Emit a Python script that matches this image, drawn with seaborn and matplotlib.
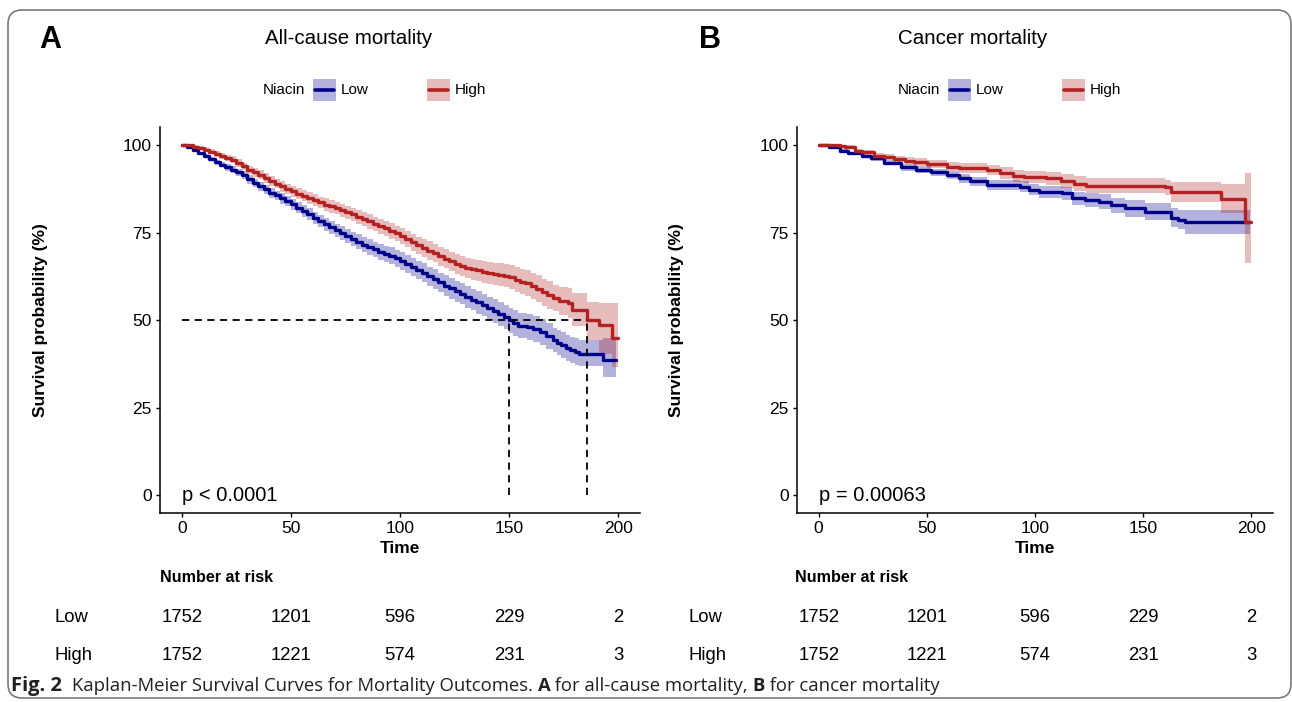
import pandas as pd
import matplotlib
matplotlib.use("Agg")
import matplotlib.pyplot as plt
import matplotlib.transforms as mtransforms
from matplotlib.patches import FancyBboxPatch, Rectangle
from matplotlib.lines import Line2D
import seaborn as sns

# ---- data (time, survival %, lower CI, upper CI) ----
a_high_t = [0, 2.5, 5, 7.5, 10, 12.5, 15, 17.5, 20, 22.5, 25, 27.5, 30, 32.5, 35, 37.5, 40, 42.5, 45, 47.5,
            50, 52.5, 55, 57.5, 60, 62.5, 65, 67.5, 70, 72.5, 75, 77.5, 80, 82.5, 85, 87.5, 90, 92.5, 95, 97.5,
            100, 102.5, 105, 107.5, 110, 112.5, 115, 117.5, 120, 122.5, 125, 127.5, 130, 132.5, 135, 137.5,
            140, 142.5, 145, 147.5, 150, 152.5, 155, 157.5, 160, 162.5, 165, 167.5, 170, 173, 177, 179,
            185.5, 191, 197, 200]
a_high_s = [100, 99.9, 99.5, 99.1, 98.7, 98.1, 97.5, 96.8, 96.3, 95.8, 94.9, 93.9, 92.8, 92.2, 91.5, 90.6,
            89.8, 89.0, 88.2, 87.5, 86.8, 86.1, 85.5, 84.8, 84.2, 83.6, 83.0, 82.5, 82.0, 81.4, 80.8, 80.2,
            79.6, 78.9, 78.2, 77.5, 76.8, 76.2, 75.5, 74.8, 74.0, 73.1, 72.3, 71.4, 70.6, 69.9, 69.1, 68.3,
            67.5, 66.8, 66.1, 65.5, 65.0, 64.6, 64.2, 63.8, 63.4, 63.2, 63.0, 62.7, 62.3, 61.6, 61.0, 60.5,
            59.8, 59.0, 58.0, 57.1, 56.3, 55.6, 54.8, 53.0, 50.0, 48.6, 44.8, 44.8]
a_high_lo = [100, 99.7, 99.1, 98.6, 98.1, 97.4, 96.7, 95.9, 95.4, 94.8, 93.8, 92.8, 91.6, 91.0, 90.2, 89.3,
             88.4, 87.6, 86.7, 86.0, 85.2, 84.5, 83.9, 83.1, 82.5, 81.9, 81.2, 80.7, 80.2, 79.5, 78.9, 78.3,
             77.6, 76.9, 76.1, 75.4, 74.7, 74.0, 73.3, 72.6, 71.7, 70.8, 69.9, 69.0, 68.1, 67.3, 66.5, 65.6,
             64.8, 64.0, 63.3, 62.6, 62.1, 61.6, 61.2, 60.7, 60.3, 60.0, 59.8, 59.4, 58.9, 58.1, 57.4, 56.8,
             56.0, 55.2, 54.1, 53.1, 52.5, 51.6, 50.5, 48.3, 44.5, 40.5, 36.7, 36.7]
a_high_hi = [100, 100, 99.9, 99.6, 99.3, 98.8, 98.3, 97.7, 97.2, 96.8, 96.0, 95.0, 94.0, 93.4, 92.8, 91.9,
             91.2, 90.4, 89.7, 89.0, 88.4, 87.7, 87.1, 86.5, 85.9, 85.3, 84.8, 84.3, 83.8, 83.3, 82.7, 82.1,
             81.6, 80.9, 80.3, 79.6, 78.9, 78.4, 77.7, 77.0, 76.3, 75.4, 74.7, 73.8, 73.1, 72.5, 71.7, 71.0,
             70.2, 69.6, 68.9, 68.4, 67.9, 67.6, 67.2, 66.9, 66.5, 66.4, 66.2, 66.0, 65.7, 65.1, 64.6, 64.2,
             63.6, 62.8, 61.9, 61.1, 60.2, 59.6, 59.1, 57.7, 55.2, 54.8, 54.8, 54.8]

a_low_t = [0, 2.5, 5, 7.5, 10, 12.5, 15, 17.5, 20, 22.5, 25, 27.5, 30, 32.5, 35, 37.5, 40, 42.5, 45, 47.5,
           50, 52.5, 55, 57.5, 60, 62.5, 65, 67.5, 70, 72.5, 75, 77.5, 80, 82.5, 85, 87.5, 90, 92.5, 95, 97.5,
           100, 102.5, 105, 107.5, 110, 112.5, 115, 117.5, 120, 122.5, 125, 127.5, 130, 132.5, 135, 137.5,
           140, 142.5, 145, 147.5, 150, 152, 154, 158, 161, 164, 167, 170, 172, 174, 176, 178, 180, 182,
           193, 199]
a_low_s = [100, 99.3, 98.6, 97.7, 96.9, 96.0, 95.1, 94.4, 93.6, 93.0, 92.3, 91.4, 90.2, 89.1, 88.2, 87.4,
           86.4, 85.6, 84.8, 84.0, 83.1, 82.1, 81.2, 80.2, 79.3, 78.3, 77.4, 76.5, 75.7, 74.9, 74.0, 73.2,
           72.4, 71.6, 70.9, 70.2, 69.6, 69.0, 68.4, 67.7, 66.9, 66.0, 65.2, 64.4, 63.5, 62.6, 61.7, 60.8,
           59.9, 59.1, 58.3, 57.5, 56.7, 55.9, 55.1, 54.3, 53.4, 52.6, 51.7, 50.9, 50.0, 49.2, 48.5, 48.0,
           47.5, 46.6, 45.5, 44.4, 43.6, 42.9, 42.1, 41.4, 40.8, 40.3, 38.8, 38.8]
a_low_lo = [100, 99.1, 98.3, 97.3, 96.4, 95.4, 94.4, 93.6, 92.7, 92.0, 91.3, 90.3, 89.0, 87.9, 86.9, 86.1,
            85.0, 84.2, 83.3, 82.5, 81.5, 80.5, 79.5, 78.5, 77.6, 76.5, 75.6, 74.7, 73.8, 73.0, 72.0, 71.2,
            70.3, 69.5, 68.7, 68.0, 67.3, 66.7, 66.0, 65.3, 64.4, 63.5, 62.6, 61.8, 60.8, 59.9, 58.9, 58.0,
            57.0, 56.1, 55.3, 54.5, 53.6, 52.8, 51.9, 51.1, 50.1, 49.2, 48.3, 47.5, 46.5, 45.6, 44.9, 44.3,
            43.7, 42.8, 41.7, 41.0, 40.1, 39.3, 38.5, 37.8, 37.3, 37.0, 33.8, 33.8]
a_low_hi = [100, 99.5, 98.9, 98.1, 97.4, 96.6, 95.8, 95.2, 94.5, 94.0, 93.3, 92.5, 91.4, 90.3, 89.5, 88.7,
            87.8, 87.0, 86.3, 85.5, 84.7, 83.7, 82.9, 81.9, 81.0, 80.1, 79.2, 78.3, 77.6, 76.8, 76.0, 75.2,
            74.5, 73.7, 73.1, 72.4, 71.9, 71.3, 70.8, 70.1, 69.4, 68.5, 67.8, 67.0, 66.2, 65.3, 64.5, 63.6,
            62.8, 62.1, 61.3, 60.5, 59.8, 59.0, 58.3, 57.5, 56.7, 56.0, 55.1, 54.3, 53.5, 52.8, 52.1, 51.7,
            51.3, 50.4, 49.3, 47.9, 47.1, 46.6, 45.8, 45.2, 44.8, 44.5, 44.8, 44.8]

b_high_t = [0, 5, 10, 12, 16.6, 20, 25.8, 30, 35, 40, 44, 50, 59.4, 65, 77.7, 84, 89.8, 95, 105, 112,
            118, 123.4, 160, 163, 186, 197, 200]
b_high_s = [100, 99.9, 99.7, 99.5, 98.4, 98.0, 97.0, 96.5, 96.0, 95.5, 95.1, 94.6, 93.8, 93.5, 92.9, 92.0,
            91.2, 90.9, 90.5, 89.8, 89.0, 88.4, 87.9, 86.5, 84.6, 78.1, 78.1]
b_high_lo = [100, 99.7, 99.4, 99.1, 97.9, 97.4, 96.3, 95.7, 95.1, 94.5, 94.0, 93.4, 92.5, 92.1, 91.4, 90.4,
             89.5, 89.1, 88.6, 87.8, 86.9, 86.2, 85.8, 83.8, 80.5, 66.2, 66.2]
b_high_hi = [100, 100, 100, 99.9, 98.9, 98.6, 97.7, 97.3, 96.9, 96.5, 96.2, 95.8, 95.1, 94.9, 94.4, 93.6,
             92.9, 92.7, 92.4, 91.8, 91.1, 90.6, 90.0, 89.5, 89.0, 92.1, 92.1]

b_low_t = [0, 5, 10, 13.6, 20, 24.3, 30, 38, 45, 52, 59.4, 65, 70, 77.7, 92.9, 97, 102, 112.7, 117.3, 123,
           129.5, 135, 141.7, 150.9, 163, 166, 169.2, 199.5]
b_low_s = [100, 99.3, 98.4, 97.6, 96.9, 96.2, 95.0, 93.6, 92.9, 92.2, 91.4, 90.5, 89.6, 88.6, 88.1, 87.3,
           86.7, 86.2, 84.8, 84.3, 83.8, 82.8, 81.9, 81.0, 79.3, 78.7, 78.1, 78.1]
b_low_lo = [100, 99.0, 98.0, 97.1, 96.3, 95.5, 94.2, 92.7, 91.9, 91.1, 90.2, 89.2, 88.2, 87.1, 86.5, 85.6,
            85.0, 84.4, 82.9, 82.3, 81.7, 80.6, 79.6, 78.6, 76.7, 76.0, 74.5, 74.5]
b_low_hi = [100, 99.6, 98.8, 98.1, 97.5, 96.9, 95.8, 94.5, 93.9, 93.3, 92.6, 91.8, 91.0, 90.1, 89.7, 89.0,
            88.4, 88.0, 86.7, 86.3, 85.9, 85.0, 84.2, 83.4, 81.9, 81.5, 81.6, 81.6]

a_medians = [150, 185.5]
b_medians = []

risk_times = [0, 50, 100, 150, 200]
a_risk_low = [1752, 1201, 596, 229, 2]
a_risk_high = [1752, 1221, 574, 231, 3]
b_risk_low = [1752, 1201, 596, 229, 2]
b_risk_high = [1752, 1221, 574, 231, 3]

groups = ["Low", "High"]
colors = {"Low": "#00008B", "High": "#B22222"}

sns.set_theme(style="ticks")
plt.rcParams["font.family"] = ["Liberation Sans", "DejaVu Sans"]
plt.rcParams["text.color"] = "black"
plt.rcParams["axes.labelcolor"] = "black"
plt.rcParams["xtick.color"] = "black"
plt.rcParams["ytick.color"] = "black"

W, H = 1292, 702
fig = plt.figure(figsize=(W / 100, H / 100), dpi=100)


def fx(x):
    return x / W


def fy(y):
    return 1 - y / H


def draw_panel(ax, curves, medians, pval, ylab_x):
    frames = []
    for name, (t, s, lo, hi) in curves.items():
        ax.fill_between(t, lo, hi, step="post", color=colors[name], alpha=0.3, lw=0)
        frames.append(pd.DataFrame({"time": t, "surv": s, "Niacin": name}))
    df = pd.concat(frames, ignore_index=True)
    sns.lineplot(data=df, x="time", y="surv", hue="Niacin", hue_order=groups, palette=colors,
                 estimator=None, sort=False, drawstyle="steps-post", lw=2.4, legend=False, ax=ax)
    if medians:
        ax.plot([0, max(medians)], [50, 50], color="black", lw=1.3, ls=(0, (4, 3)))
        for m in medians:
            ax.plot([m, m], [0, 50], color="black", lw=1.3, ls=(0, (4, 3)))
    ax.text(0, 0, pval, fontsize=14.5, ha="left", va="center")
    ax.set_xlim(-10, 210)
    ax.set_ylim(-5, 105)
    ax.set_xticks(risk_times)
    ax.set_yticks([0, 25, 50, 75, 100])
    ax.set_xlabel("Time", fontsize=12.5, fontweight="bold")
    ax.xaxis.set_label_coords(0.5, -0.072)
    ax.xaxis.label.set_va("top")
    ax.set_ylabel("Survival probability (%)", fontsize=12.5, fontweight="bold")
    ax.yaxis.set_label_coords(ylab_x, 0.5)
    ax.grid(False)
    sns.despine(ax=ax)
    for side in ["left", "bottom"]:
        ax.spines[side].set_color("black")
        ax.spines[side].set_linewidth(1.1)
    ax.tick_params(length=3, width=1, colors="black", labelsize=12.5, pad=3)


def draw_legend(dx):
    fig.text(fx(263 + dx), fy(90), "Niacin", fontsize=11, va="center", ha="left")
    for name, bx, tx in [("Low", 313, 341), ("High", 427, 455)]:
        fig.patches.append(Rectangle((fx(bx + dx), fy(101)), 23 / W, 22 / H, transform=fig.transFigure,
                                     facecolor=colors[name], alpha=0.3, lw=0))
        fig.lines.append(Line2D([fx(bx + dx + 2), fx(bx + dx + 21)], [fy(90), fy(90)],
                                transform=fig.transFigure, color=colors[name], lw=2.6))
        fig.text(fx(tx + dx), fy(90), name, fontsize=11, va="center", ha="left")


def draw_risk(ax, low, high):
    tr = mtransforms.blended_transform_factory(ax.transData, fig.transFigure)
    for vals, y in [(low, 618), (high, 655)]:
        for t, v in zip(risk_times, vals):
            ax.text(t, fy(y), str(v), transform=tr, fontsize=13.3, ha="center", va="center")


ax_a = fig.add_axes([fx(160), fy(513), (640 - 160) / W, (513 - 127.5) / H])
ax_b = fig.add_axes([fx(797), fy(513), (1273 - 797) / W, (513 - 127.5) / H])

draw_panel(ax_a, {"Low": (a_low_t, a_low_s, a_low_lo, a_low_hi),
                  "High": (a_high_t, a_high_s, a_high_lo, a_high_hi)},
           a_medians, "p < 0.0001", -0.233)
draw_panel(ax_b, {"Low": (b_low_t, b_low_s, b_low_lo, b_low_hi),
                  "High": (b_high_t, b_high_s, b_high_lo, b_high_hi)},
           b_medians, "p = 0.00063", -0.237)

# panel letters and titles
fig.text(fx(50), fy(40), "A", fontsize=22, fontweight="bold", ha="center", va="center")
fig.text(fx(710), fy(40), "B", fontsize=22, fontweight="bold", ha="center", va="center")
fig.text(fx(348.5), fy(39), "All-cause mortality", fontsize=14.8, ha="center", va="center")
fig.text(fx(973), fy(39), "Cancer mortality", fontsize=14.8, ha="center", va="center")

draw_legend(0)
draw_legend(635)

# risk tables
for x0 in [160, 795]:
    fig.text(fx(x0), fy(578), "Number at risk", fontsize=11.6, fontweight="bold", ha="left", va="center")
for x0 in [55, 688]:
    fig.text(fx(x0), fy(618), "Low", fontsize=13.3, ha="left", va="center")
    fig.text(fx(x0), fy(655), "High", fontsize=13.3, ha="left", va="center")
draw_risk(ax_a, a_risk_low, a_risk_high)
draw_risk(ax_b, b_risk_low, b_risk_high)

# outer frame
fig.patches.append(FancyBboxPatch((0.08, 0.04), 12.83, 6.88, boxstyle="round,pad=0,rounding_size=0.14",
                                  transform=fig.dpi_scale_trans, facecolor="none",
                                  edgecolor="#7a7a7a", lw=1.2))

# caption with mixed weights
renderer = fig.canvas.get_renderer()
cap_font = ["Open Sans", "DejaVu Sans"]
head = fig.text(fx(11), fy(686), "Fig. 2", fontsize=14.5, fontweight="bold", family=cap_font,
                color="#231f20", ha="left", va="center")
x = fx(11) + (head.get_window_extent(renderer).width + 10) / W
parts = [("Kaplan-Meier Survival Curves for Mortality Outcomes. ", "normal"),
         ("A", "bold"), (" for all-cause mortality, ", "normal"), ("B", "bold"),
         (" for cancer mortality", "normal")]
for txt, wt in parts:
    t = fig.text(x, fy(686), txt, fontsize=13.3, fontweight=wt, family=cap_font,
                 color="#231f20", ha="left", va="center")
    x += t.get_window_extent(renderer).width / W

fig.savefig("out.png", dpi=100)
